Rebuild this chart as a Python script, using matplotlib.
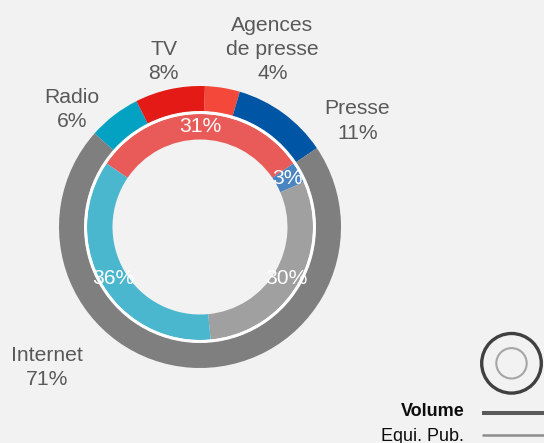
import matplotlib
matplotlib.use("Agg")
import matplotlib.pyplot as plt
from matplotlib.patches import Circle

plt.rcParams['font.family'] = ['Liberation Sans', 'DejaVu Sans']

# ---- data ----
outer_labels = ["Agences\nde presse", "Presse", "Internet", "Radio", "TV"]
outer_values = [4, 11, 71, 6, 8]
outer_colors = ["#f4493a", "#0055a5", "#7f7f7f", "#04a2c2", "#e31a15"]

inner_values = [31, 3, 30, 36]
inner_colors = ["#e95b59", "#4a84c1", "#a0a0a0", "#4bb7cf"]

legend_labels = ["Volume", "Equi. Pub."]

# ---- figure in pixel coordinates ----
W, H = 544, 443
fig = plt.figure(figsize=(W / 100, H / 100), dpi=100)
fig.patch.set_facecolor("#f2f2f2")
ax = fig.add_axes([0, 0, 1, 1])
ax.set_facecolor("#f2f2f2")

cx, cy = 200, H - 227
R_out, w_out = 141, 25
R_in, w_in = 113, 25.5

ax.pie(outer_values, colors=outer_colors, radius=R_out, center=(cx, cy),
       startangle=88, counterclock=False, frame=True,
       wedgeprops=dict(width=w_out, linewidth=0))

mid_in = R_in - w_in / 2
_, _, autotexts = ax.pie(inner_values, colors=inner_colors, radius=R_in, center=(cx, cy),
                         startangle=145.8, counterclock=False, frame=True,
                         autopct=lambda p: f"{p:.0f}%", pctdistance=mid_in / R_in,
                         wedgeprops=dict(width=w_in, linewidth=0),
                         textprops=dict(color="white", fontsize=15.2))

# white separation ring
ax.add_patch(Circle((cx, cy), R_in + 1.3, fill=False, edgecolor="white", linewidth=1.9, zorder=5))

# outer labels (layout positions: x center, last-line baseline in px from top)
label_pos = [(272.4, 79), (357.4, 138.5), (46.8, 385), (72.2, 126.7), (163.8, 79)]
total = sum(outer_values)
for lab, v, (x, y) in zip(outer_labels, outer_values, label_pos):
    ax.text(x, H - y, f"{lab}\n{round(100 * v / total)}%", ha="center", va="baseline",
            fontsize=15.2, color="#595959", linespacing=1.34)

# legend
ax.add_patch(Circle((511.5, H - 363.3), 29.8, fill=False, edgecolor="#404040", linewidth=2.4))
ax.add_patch(Circle((511.5, H - 363.3), 15.2, fill=False, edgecolor="#a6a6a6", linewidth=1.5))
ax.text(465, H - 416, legend_labels[0], ha="right", va="baseline", fontsize=13,
        fontweight="bold", color="#0d0d0d")
ax.text(463.5, H - 440.7, legend_labels[1], ha="right", va="baseline", fontsize=13,
        color="#0d0d0d")
ax.plot([482, 546], [H - 413, H - 413], color="#595959", linewidth=2.9, solid_capstyle="butt")
ax.plot([482, 546], [H - 435, H - 435], color="#8c8c8c", linewidth=1.8, solid_capstyle="butt")

ax.set_xlim(0, W)
ax.set_ylim(0, H)
ax.set_aspect("auto")
ax.axis("off")

fig.savefig("out.png", dpi=100, facecolor=fig.get_facecolor())
